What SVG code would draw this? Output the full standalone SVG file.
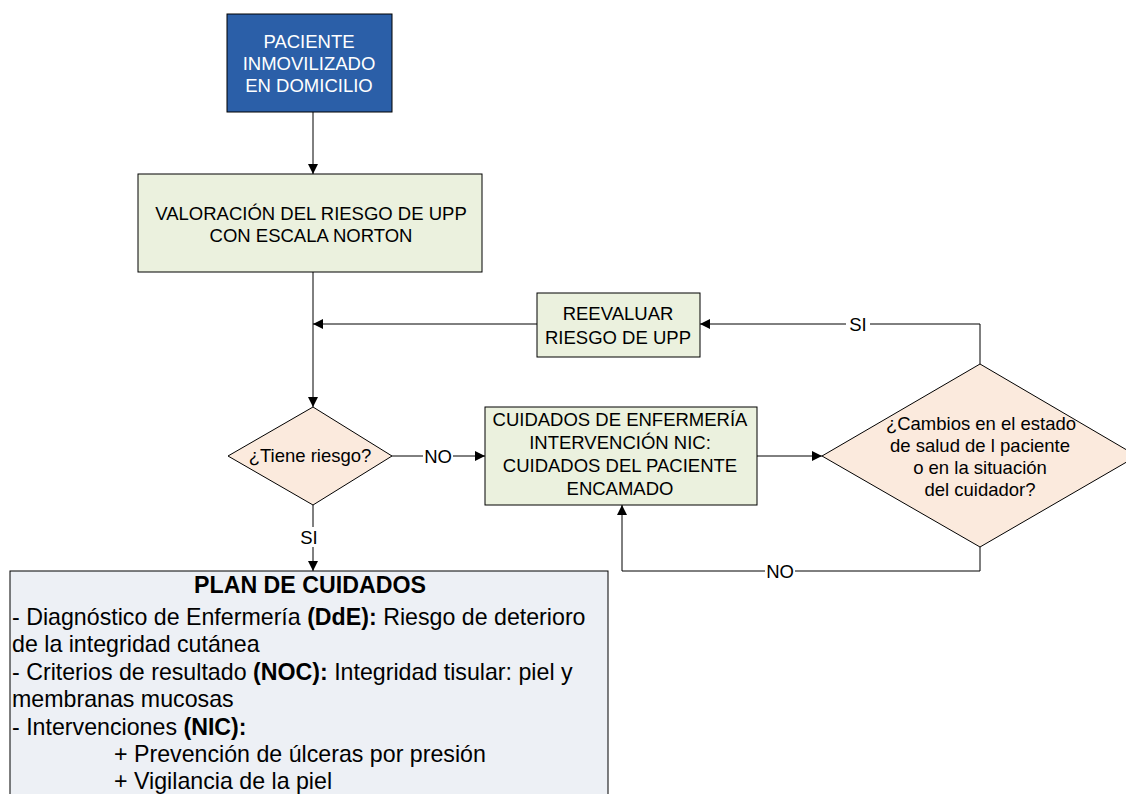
<svg xmlns="http://www.w3.org/2000/svg" width="1126" height="794" viewBox="0 0 1126 794">
<defs>
<marker id="ah" markerWidth="10" markerHeight="10" refX="10" refY="5" orient="auto" markerUnits="userSpaceOnUse">
<path d="M0,0 L10,5 L0,10 Z" fill="#000"/>
</marker>
<style>
text{font-family:"Liberation Sans",Arial,sans-serif;font-size:18.5px;fill:#000}
.c{text-anchor:middle}
.w{fill:#fff}
.box{fill:#EBF1DE;stroke:#000;stroke-width:1}
.dia{fill:#FBEADD;stroke:#000;stroke-width:1}
.ln{fill:none;stroke:#000;stroke-width:1;marker-end:url(#ah)}
.p{font-size:23.2px}
.b{font-weight:bold}
</style>
</defs>
<rect width="1126" height="794" fill="#fff"/>
<g id="connectors">
<path class="ln" d="M313,112 V174"/>
<path class="ln" d="M313,272 V407"/>
<path class="ln" d="M537,324 H313"/>
<path class="ln" d="M980,364 V324 H700"/>
<path class="ln" d="M392,456 H485"/>
<path class="ln" d="M757,456 H822"/>
<path class="ln" d="M980,547 V571 H622 V505"/>
<path class="ln" d="M313,505 V571"/>
<rect x="846" y="314" width="24" height="20" fill="#fff"/>
<text class="c" x="858" y="331">SI</text>
<rect x="423" y="446" width="30" height="20" fill="#fff"/>
<text class="c" x="438" y="463">NO</text>
<rect x="765" y="561" width="30" height="20" fill="#fff"/>
<text class="c" x="780" y="578">NO</text>
<rect x="298" y="527" width="22" height="20" fill="#fff"/>
<text class="c" x="309" y="544">SI</text>
</g>
<g id="n-paciente">
<rect x="227" y="14" width="165" height="98" fill="#2B5FA8" stroke="#000"/>
<text class="c w" x="309" y="48">PACIENTE</text>
<text class="c w" x="309" y="70">INMOVILIZADO</text>
<text class="c w" x="309" y="92">EN DOMICILIO</text>
</g>
<g id="n-valoracion">
<rect class="box" x="138" y="174" width="344" height="98"/>
<text class="c" x="311" y="220">VALORACIÓN DEL RIESGO DE UPP</text>
<text class="c" x="311" y="242">CON ESCALA NORTON</text>
</g>
<g id="n-reevaluar">
<rect class="box" x="537" y="293" width="163" height="64"/>
<text class="c" x="618" y="320">REEVALUAR</text>
<text class="c" x="618" y="344">RIESGO DE UPP</text>
</g>
<g id="n-riesgo">
<path class="dia" d="M313,407 L392,456 L313,505 L228,456 Z"/>
<text class="c" x="310" y="462">¿Tiene riesgo?</text>
</g>
<g id="n-cuidados">
<rect class="box" x="485" y="407" width="272" height="98"/>
<text class="c" x="620" y="426">CUIDADOS DE ENFERMERÍA</text>
<text class="c" x="620" y="449">INTERVENCIÓN NIC:</text>
<text class="c" x="620" y="472">CUIDADOS DEL PACIENTE</text>
<text class="c" x="620" y="495">ENCAMADO</text>
</g>
<g id="n-cambios">
<path class="dia" d="M980,364 L1137,456 L980,547 L822,456 Z"/>
<text class="c" x="981" y="430">¿Cambios en el estado</text>
<text class="c" x="980" y="452">de salud de l paciente</text>
<text class="c" x="980" y="474">o en la situación</text>
<text class="c" x="980" y="496">del cuidador?</text>
</g>
<g id="n-plan">
<rect x="10" y="571" width="598" height="240" fill="#EDF0F5" stroke="#000"/>
<text class="c p b" x="310" y="593">PLAN DE CUIDADOS</text>
<text class="p" x="12" y="625">- Diagnóstico de Enfermería <tspan class="b">(DdE):</tspan> Riesgo de deterioro</text>
<text class="p" x="12" y="652">de la integridad cutánea</text>
<text class="p" x="12" y="680">- Criterios de resultado <tspan class="b">(NOC):</tspan> Integridad tisular: piel y</text>
<text class="p" x="12" y="707">membranas mucosas</text>
<text class="p" x="12" y="735">- Intervenciones <tspan class="b">(NIC):</tspan></text>
<text class="p" x="114" y="762">+ Prevención de úlceras por presión</text>
<text class="p" x="114" y="789">+ Vigilancia de la piel</text>
</g>
</svg>
